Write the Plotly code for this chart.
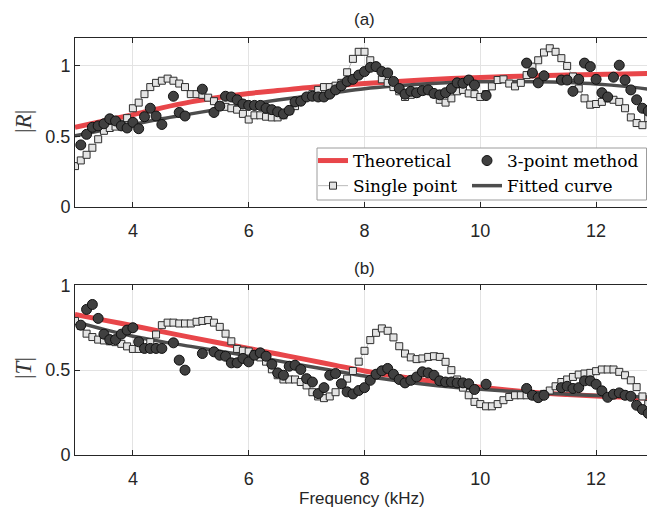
import numpy as np
import plotly.graph_objects as go

# ---------------- data ----------------
freq = np.round(np.arange(3.0, 12.95, 0.1), 1)  # frequency grid, kHz

# panel (a) |R|
R_single = [0.29, 0.33, 0.37, 0.42, 0.48, 0.54, 0.56, 0.57, 0.59, 0.63,
            0.70, 0.74, 0.80, 0.85, 0.88, 0.895, 0.91, 0.895, 0.875, 0.85,
            0.80, 0.80, 0.795, 0.775, 0.75, 0.72, 0.71, 0.70, 0.69, 0.66,
            0.62, 0.65, 0.65, 0.64, 0.635, 0.635, 0.65, 0.68, 0.715, 0.75,
            0.78, 0.80, 0.83, 0.85, 0.85, 0.86, 0.88, 0.955, 1.05, 1.10,
            1.10, 1.04, 0.99, 0.905, 0.88, 0.85, 0.82, 0.78, 0.795, 0.805,
            0.82, 0.83, 0.80, 0.76, 0.74, 0.77, 0.82, 0.83, 0.805, 0.80,
            0.78, 0.80, 0.855, 0.90, 0.905, 0.875, 0.855, 0.88, 0.935, 0.995,
            1.04, 1.095, 1.125, 1.10, 1.055, 1.0, 0.925, 0.84, 0.77, 0.725,
            0.73, 0.745, 0.77, 0.76, 0.745, 0.70, 0.635, 0.595, 0.58, 0.63]

R_3point = [None, 0.44, 0.515, 0.565, 0.575, 0.59, 0.625, 0.61, 0.575, 0.56,
            0.60, 0.555, 0.64, 0.70, 0.645, 0.585, None, 0.785, 0.67, 0.645,
            None, None, 0.835, None, 0.67, 0.715, 0.785, 0.78, 0.76, 0.73,
            0.72, 0.72, 0.72, 0.70, 0.69, 0.675, 0.66, 0.685, 0.745, 0.75,
            0.78, 0.785, 0.78, 0.78, 0.80, 0.83, 0.86, 0.89, 0.905, 0.935,
            0.96, 0.99, 0.995, 0.96, 0.95, 0.89, 0.84, 0.80, 0.82, 0.81,
            0.825, 0.83, 0.805, 0.795, 0.81, 0.84, 0.88, 0.877, 0.90, 0.865,
            None, 0.79, None, None, None, None, None, None, 1.02, 0.95,
            0.88, 0.93, None, None, 0.90, 0.90, 0.82, 0.905, 1.02, 0.995,
            0.905, 0.81, 0.78, 0.92, 1.005, 0.90, 0.83, 0.76, 0.70, 0.68]

curve_f = [3.0, 3.5, 4.0, 4.5, 5.0, 5.5, 6.0, 6.5, 7.0, 7.5, 8.0, 8.5, 9.0,
           9.5, 10.0, 10.5, 11.0, 11.5, 12.0, 12.5, 12.9]
R_theory = [0.565, 0.61, 0.655, 0.703, 0.745, 0.778, 0.805, 0.825, 0.845,
            0.86, 0.875, 0.888, 0.90, 0.91, 0.918, 0.925, 0.931, 0.936,
            0.94, 0.943, 0.946]
R_fit = [0.505, 0.545, 0.585, 0.625, 0.66, 0.695, 0.728, 0.758, 0.785,
         0.812, 0.838, 0.857, 0.872, 0.882, 0.888, 0.89, 0.888, 0.882,
         0.872, 0.855, 0.835]

# panel (b) |T|
T_single = [0.79, 0.76, 0.715, 0.695, 0.68, 0.675, 0.67, 0.665, 0.655, 0.64,
            0.625, 0.625, 0.63, 0.665, 0.71, 0.765, 0.78, 0.78, 0.775, 0.775,
            0.775, 0.785, 0.79, 0.795, 0.78, 0.755, 0.715, 0.67, 0.625, 0.615,
            0.61, 0.595, 0.575, 0.55, 0.505, 0.47, 0.445, 0.445, 0.445, 0.43,
            0.41, 0.37, 0.345, 0.335, 0.345, 0.37, 0.42, 0.45, 0.495, 0.55,
            0.614, 0.677, 0.72, 0.746, 0.732, 0.693, 0.641, 0.598, 0.575, 0.565,
            0.569, 0.578, 0.582, 0.578, 0.549, 0.50, 0.445, 0.397, 0.352, 0.313,
            0.30, 0.287, 0.287, 0.30, 0.323, 0.342, 0.352, 0.352, 0.352, 0.352,
            0.352, 0.36, 0.38, 0.405, 0.43, 0.445, 0.46, 0.474, 0.48, 0.484,
            0.494, 0.504, 0.504, 0.504, 0.49, 0.47, 0.44, 0.40, 0.345, 0.30]

T_3point = [None, 0.765, 0.858, 0.887, 0.805, 0.712, 0.68, 0.68, 0.712, 0.736,
            0.75, 0.667, 0.628, 0.628, 0.628, 0.628, None, 0.661, 0.559, 0.50,
            None, None, 0.598, None, 0.608, 0.588, 0.582, 0.543, 0.543, 0.569,
            0.549, 0.588, 0.602, 0.582, 0.535, 0.484, 0.47, 0.523, 0.529, 0.504,
            0.45, 0.43, 0.362, 0.397, 0.47, 0.48, 0.42, 0.372, 0.36, 0.38,
            0.397, 0.44, 0.476, 0.496, 0.51, 0.476, 0.445, 0.425, 0.44, 0.46,
            0.49, 0.484, 0.47, 0.437, 0.43, 0.43, 0.425, 0.425, 0.42, 0.386,
            None, 0.417, None, None, None, None, None, None, 0.392, 0.352,
            0.338, 0.352, None, None, 0.397, 0.405, 0.392, 0.397, 0.437, 0.437,
            0.417, 0.378, 0.34, 0.358, 0.366, 0.352, 0.346, 0.293, 0.268, 0.245]

T_theory = [0.828, 0.795, 0.762, 0.727, 0.693, 0.66, 0.628, 0.595, 0.562,
            0.528, 0.495, 0.467, 0.442, 0.42, 0.4, 0.382, 0.367, 0.356,
            0.347, 0.34, 0.335]
T_fit = [0.785, 0.74, 0.70, 0.668, 0.64, 0.612, 0.585, 0.555, 0.525, 0.495,
         0.465, 0.44, 0.418, 0.40, 0.387, 0.376, 0.366, 0.358, 0.351,
         0.346, 0.342]

x_ticks = [4, 6, 8, 10, 12]
y_ticks = [0, 0.5, 1]
y_ticktext = ["0", "0.5", "1"]

# ---------------- style ----------------
RED = "#E8464A"
FIT = "#4D4D4D"
AX = "#262626"
GRID = "#E3E3E3"
SANS = "Liberation Sans, Arial, sans-serif"
SERIF = "DejaVu Serif, serif"
LSERIF = "Liberation Serif, serif"

W, H = 647, 511
ML, MR, MT, MB = 75, 0, 37, 56
PW, PH = W - ML - MR, H - MT - MB
XPX = 57.9  # px per kHz


def px_x(p):
    return (p - ML) / PW


def px_y(p):
    return (H - MB - p) / PH


fig = go.Figure()

panels = [
    ("x", "y", R_single, R_3point, R_theory, R_fit, True),
    ("x2", "y2", T_single, T_3point, T_theory, T_fit, False),
]
for xa, ya, single, three, theory, fit, show in panels:
    fig.add_trace(go.Scatter(
        x=curve_f, y=theory, mode="lines", line=dict(color=RED, width=5, shape="spline"),
        name="Theoretical", xaxis=xa, yaxis=ya, showlegend=show, legend="legend",
        legendrank=1, legendgroup="th"))
    fig.add_trace(go.Scatter(
        x=curve_f, y=fit, mode="lines", line=dict(color=FIT, width=3.5, shape="spline"),
        name="Fitted curve", xaxis=xa, yaxis=ya, showlegend=show, legend="legend2",
        legendrank=2, legendgroup="fit"))
    fig.add_trace(go.Scatter(
        x=freq, y=single, mode="lines+markers",
        line=dict(color="#A8A8A8", width=0.8),
        marker=dict(symbol="square", size=7, color="#E4E4E4", line=dict(color="#2E2E2E", width=1)),
        name="Single point", xaxis=xa, yaxis=ya, showlegend=show, legend="legend",
        legendrank=2, legendgroup="sp"))
    fig.add_trace(go.Scatter(
        x=freq, y=three, mode="markers",
        marker=dict(symbol="circle", size=10, color="#404040", line=dict(color="#111111", width=1)),
        name="3-point method", xaxis=xa, yaxis=ya, showlegend=show, legend="legend2",
        legendrank=1, legendgroup="tp"))

xmax = 3 + PW / XPX
xcommon = dict(range=[3, xmax], tickvals=x_ticks, ticks="inside", ticklen=5, tickcolor=AX,
               showline=True, linecolor=AX, linewidth=1, mirror="ticks",
               showgrid=True, gridcolor=GRID, gridwidth=1, zeroline=False,
               ticklabelstandoff=7,
               tickfont=dict(family=SANS, size=18, color=AX))
ycommon = dict(tickvals=y_ticks, ticktext=y_ticktext, ticks="inside", ticklen=5, tickcolor=AX,
               showline=True, linecolor=AX, linewidth=1, mirror=False,
               showgrid=True, gridcolor=GRID, gridwidth=1, zeroline=False,
               tickfont=dict(family=SANS, size=18, color=AX))

top_a, bot_a = 37.7, 207.0
top_b, bot_b = 285.3, 455.0

legend_common = dict(xanchor="left", yanchor="top", bgcolor="rgba(0,0,0,0)", borderwidth=0,
                     orientation="v", font=dict(family=SERIF, size=17, color="black"),
                     tracegroupgap=0, traceorder="normal")

fig.update_layout(
    width=W, height=H, margin=dict(l=ML, r=MR, t=MT, b=MB),
    paper_bgcolor="white", plot_bgcolor="white",
    xaxis=dict(**xcommon, anchor="y", domain=[0, 1]),
    yaxis=dict(**ycommon, range=[0, 1.2], domain=[px_y(bot_a), px_y(top_a)]),
    xaxis2=dict(**xcommon, anchor="y2", domain=[0, 1]),
    yaxis2=dict(**ycommon, range=[0, 1], domain=[px_y(bot_b), min(1, px_y(top_b))]),
    legend=dict(x=px_x(313), y=px_y(143), **legend_common),
    legend2=dict(x=px_x(467), y=px_y(143), **legend_common),
    showlegend=True,
    shapes=[dict(type="rect", xref="paper", yref="paper",
                 x0=px_x(317), x1=px_x(646.5), y0=px_y(200), y1=px_y(148),
                 line=dict(color="#9C9C9C", width=1), fillcolor="white", layer="above")],
    annotations=[
        dict(text="(a)", xref="paper", yref="paper", x=px_x(364.8), y=px_y(20),
             xanchor="center", yanchor="middle",
             showarrow=False, font=dict(family=SANS, size=17, color=AX)),
        dict(text="(b)", xref="paper", yref="paper", x=px_x(364.8), y=px_y(268),
             xanchor="center", yanchor="middle",
             showarrow=False, font=dict(family=SANS, size=17, color=AX)),
        dict(text="Frequency (kHz)", xref="paper", yref="paper", x=px_x(362), y=px_y(499),
             xanchor="center", yanchor="middle",
             showarrow=False, font=dict(family=SANS, size=17, color=AX)),
        dict(text="|<i>R</i>|", xref="paper", yref="paper", x=px_x(23), y=px_y(122),
             xanchor="center", yanchor="middle",
             showarrow=False, textangle=-90, font=dict(family=LSERIF, size=23, color="#333333")),
        dict(text="|<i>T</i>|", xref="paper", yref="paper", x=px_x(23), y=px_y(368),
             xanchor="center", yanchor="middle",
             showarrow=False, textangle=-90, font=dict(family=LSERIF, size=23, color="#333333")),
    ],
)

fig.write_html("out.html", config={"displayModeBar": False},
               post_script="document.body.style.margin='0';document.body.style.overflow='hidden';")
